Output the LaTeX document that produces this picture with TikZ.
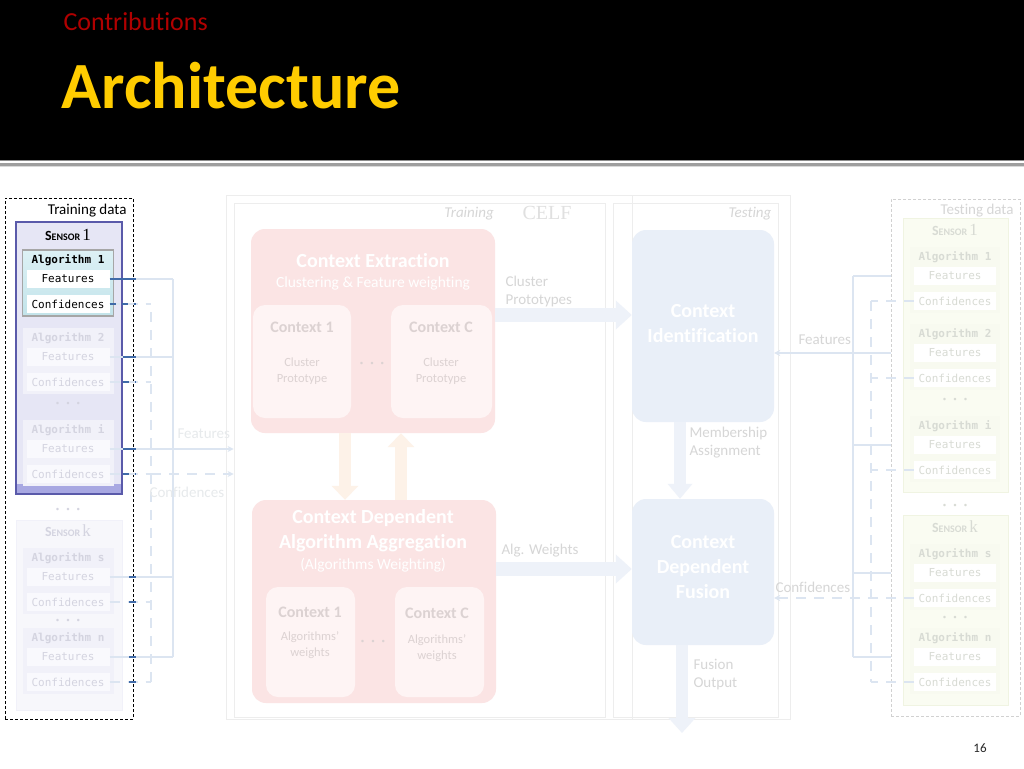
\documentclass[tikz,border=0pt]{standalone}
\usepackage{fontspec}
\setmainfont[Ligatures={TeX,NoCommon}]{Carlito}
\setmonofont{DejaVu Sans Mono}
\newfontfamily\serifnum{Liberation Serif}
\usetikzlibrary{arrows.meta}
\usetikzlibrary{positioning}

\definecolor{hdyellow}{HTML}{FFCC00}
\definecolor{hdred}{HTML}{B00000}
\definecolor{lavfill}{HTML}{E6E6F5}
\definecolor{lavline}{HTML}{5A5AAA}
\definecolor{lavband}{HTML}{A8A8E2}
\definecolor{algtop}{HTML}{DDF1F5}
\definecolor{algbot}{HTML}{C2E3EA}
\definecolor{wirehl}{HTML}{3F6AA8}
\definecolor{wirefd}{HTML}{DCE5F1}
\definecolor{pinkbg}{HTML}{FBE4E4}
\definecolor{pinkin}{HTML}{FEF4F4}
\definecolor{bluebg}{HTML}{E9EFF8}
\definecolor{arrowbl}{HTML}{EEF2F9}
\definecolor{arrowor}{HTML}{FDF2E8}
\definecolor{framecl}{HTML}{EDEDED}
\definecolor{fadetxt}{HTML}{D6D6D6}
\definecolor{ctxgray}{HTML}{DCD2D2}
\definecolor{lavfade}{HTML}{F1F1F9}
\definecolor{lavtxt}{HTML}{D4D4E0}
\definecolor{grnfade}{HTML}{FAFCF2}
\definecolor{grnline}{HTML}{F0F4E2}
\definecolor{grntxt}{HTML}{D8DBD4}

\newcommand\sensorname[1]{{\bfseries{\fontsize{14}{14}\selectfont S}{\fontsize{10}{12}\selectfont ENSOR}}~{\serifnum\fontsize{17}{17}\selectfont #1}}
\newcommand\dotrowtext{\textbullet\hspace{7pt}\textbullet\hspace{7pt}\textbullet}
\newcommand\algblock[5]{%
  \node[#5 blk] (#1) at (#2,#3+23) {};
  \node[#5 title] (#1t) at (#2,#3) {Algorithm #4};
  \node[#5 field] (#1f) at (#2,#3+19) {Features};
  \node[#5 field] (#1c) at (#2,#3+44) {Confidences};
}

\tikzset{
  celfframe/.style={draw=framecl, line width=0.8pt, inner sep=0pt},
  datafr/.style={draw=black, dash pattern=on 3pt off 2pt, line width=0.8pt, inner sep=0pt},
  framelbl/.style={text=fadetxt, font=\itshape\fontsize{15}{17}\selectfont},
  sensorhl/.style={draw=lavline, line width=1.2pt, fill=lavfill, inner sep=0pt,
    path picture={\fill[lavband] ([yshift=10pt]path picture bounding box.south west) rectangle (path picture bounding box.south east);}},
  sensorfl/.style={draw=lavfade, line width=1pt, fill=lavfade!60, inner sep=0pt},
  sensorfr/.style={draw=grnline, line width=1pt, fill=grnfade, inner sep=0pt},
  hl blk/.style={draw=black!35, line width=1.6pt, top color=algtop, bottom color=algbot, minimum width=91, minimum height=66, inner sep=0pt},
  hl title/.style={font=\ttfamily\bfseries\fontsize{11}{12}\selectfont},
  hl field/.style={fill=white, minimum width=83, minimum height=18, inner sep=0pt, font=\ttfamily\fontsize{11}{12}\selectfont},
  fl blk/.style={fill=lavfade, minimum width=91, minimum height=66, inner sep=0pt},
  fl title/.style={text=lavtxt, font=\ttfamily\bfseries\fontsize{11}{12}\selectfont},
  fl field/.style={fill=white!60!lavfade, text=lavtxt, minimum width=83, minimum height=18, inner sep=0pt, font=\ttfamily\fontsize{11}{12}\selectfont},
  fr blk/.style={fill=grnline!50!white, minimum width=90, minimum height=66, inner sep=0pt},
  fr title/.style={text=grntxt, font=\ttfamily\bfseries\fontsize{11}{12}\selectfont},
  fr field/.style={fill=white, text=grntxt, minimum width=82, minimum height=18, inner sep=0pt, font=\ttfamily\fontsize{11}{12}\selectfont},
  dotrow/.style={font=\fontsize{7}{7}\selectfont},
}
\tikzset{
  bigbox/.style={rounded corners=14pt, inner sep=0pt},
  pinkbox/.style={bigbox, fill=pinkbg},
  bluebox/.style={bigbox, fill=bluebg},
  ctxbox/.style={rounded corners=12pt, fill=pinkin, inner sep=0pt},
  boxtitle/.style={text=white, align=center, font=\bfseries\fontsize{20}{25}\selectfont},
  boxsub/.style={text=white, font=\fontsize{15.5}{17}\selectfont},
  ctxtitle/.style={text=ctxgray, font=\bfseries\fontsize{16}{18}\selectfont},
  ctxtext/.style={text=ctxgray, align=center, font=\fontsize{12.5}{16}\selectfont},
  lbl/.style={anchor=west, align=left, text=fadetxt, font=\fontsize{15}{18}\selectfont},
  barrow/.style={draw=arrowbl, line width=14pt, -{Triangle[length=16pt,width=28pt]}},
  oarrow/.style={draw=arrowor, line width=12pt, -{Triangle[length=14pt,width=26pt]}},
  fdwire/.style={draw=wirefd, line width=2pt},
  fddash/.style={draw=wirefd, line width=2pt, dash pattern=on 10pt off 8pt},
  hlwire/.style={draw=wirehl, line width=2.5pt},
  hldash/.style={draw=wirehl, line width=2pt, dash pattern=on 6pt off 6pt},
  tip/.style={-{Stealth[length=6pt,width=6pt]}},
}

\begin{document}
\begin{tikzpicture}[x=1pt, y=-1pt]
  \useasboundingbox (0,0) rectangle (1024,768);
  \fill[white] (0,0) rectangle (1024,768);

  % slide header
  \fill[black] (0,0) rectangle (1024,160);
  \fill[black!45] (0,160) rectangle (1024,161);
  \fill[black!38] (0,163) rectangle (1024,165.5);
  \fill[black!15] (0,165.5) rectangle (1024,167);
  \node[anchor=base west, text=hdred, font=\fontsize{26}{26}\selectfont] (part) at (60,31) {Contributions};
  \node[anchor=base west, text=hdyellow, font=\bfseries\fontsize{66}{66}\selectfont] (title) at (58,108) {Architecture};
  \node[text=black!85, font=\fontsize{13}{13}\selectfont] (page) at (980,748) {16};

  % frames
  \node[datafr, minimum width=128, minimum height=521] (trd) at (69,458.5) {};
  \node[anchor=east, font=\fontsize{15}{17}\selectfont] (trdl) at (130,211) {Training data};
  \node[datafr, draw=black!18, minimum width=129, minimum height=517] (tsd) at (955.5,457.5) {};
  \node[anchor=east, text=fadetxt, font=\fontsize{15}{17}\selectfont] (tsdl) at (1017,211) {Testing data};
  \node[celfframe, minimum width=564, minimum height=524] (celf) at (508,457) {};
  \node[celfframe, minimum width=371, minimum height=514] (trn) at (419.5,460) {};
  \node[celfframe, minimum width=165, minimum height=514] (tst) at (695.5,460) {};
  \draw[draw=framecl, line width=0.8pt] (632,195) -- (632,719);
  \node[text=black!12, font=\serifnum\fontsize{20}{20}\selectfont] (celfl) at (547,213) {CELF};
  \node[framelbl] (trnl) at (469,214) {Training};
  \node[framelbl] (tstl) at (750,214) {Testing};

  % training data sensors
  \node[sensorhl, minimum width=106, minimum height=272] (s1) at (69,358) {};
  \node (s1t) at (68,235) {\sensorname{1}};
  \algblock{a1}{68}{260}{1}{hl}
  \algblock{a2}{68}{338}{2}{fl}
  \node[dotrow, text=lavtxt] (s1d) at (68,404) {\dotrowtext};
  \algblock{ai}{68}{430}{i}{fl}
  \node[dotrow, text=lavtxt] (sd) at (68,510) {\dotrowtext};
  \node[sensorfl, minimum width=106, minimum height=190] (sk) at (69,615) {};
  \node[text=lavtxt] (skt) at (68,531) {\sensorname{k}};
  \algblock{as}{68}{558}{s}{fl}
  \node[dotrow, text=lavtxt] (skd) at (68,621) {\dotrowtext};
  \algblock{an}{68}{638}{n}{fl}

  % testing data sensors
  \node[sensorfr, minimum width=105, minimum height=274] (r1) at (955.5,355) {};
  \node[text=grntxt] (r1t) at (955,230) {\sensorname{1}};
  \algblock{b1}{955}{257}{1}{fr}
  \algblock{b2}{955}{334}{2}{fr}
  \node[dotrow, text=grntxt] (r1d) at (955,400) {\dotrowtext};
  \algblock{bi}{955}{426}{i}{fr}
  \node[dotrow, text=grntxt] (rd) at (955,506) {\dotrowtext};
  \node[sensorfr, minimum width=105, minimum height=190] (rk) at (955.5,610) {};
  \node[text=grntxt] (rkt) at (955,527) {\sensorname{k}};
  \algblock{bs}{955}{554}{s}{fr}
  \node[dotrow, text=grntxt] (rkd) at (955,618) {\dotrowtext};
  \algblock{bn}{955}{638}{n}{fr}

  % context extraction
  \node[pinkbox, minimum width=244, minimum height=204] (ce) at (373,331) {};
  \node[boxtitle] (cet) at (373,261) {Context Extraction};
  \node[boxsub] (ces) at (373,283) {Clustering \& Feature weighting};
  \node[ctxbox, minimum width=98, minimum height=113] (ce1) at (302,361.5) {};
  \node[ctxbox, minimum width=101, minimum height=113] (cec) at (441.5,361.5) {};
  \node[ctxtitle] (ce1t) at (302,327) {Context 1};
  \node[ctxtext] (ce1x) at (302,371) {Cluster\\Prototype};
  \node[ctxtitle] (cect) at (441,327) {Context C};
  \node[ctxtext] (cecx) at (441,371) {Cluster\\Prototype};
  \node[dotrow, text=ctxgray] (ced) at (372,364) {\dotrowtext};

  % algorithm aggregation
  \node[pinkbox, minimum width=244, minimum height=203] (ca) at (374,601.5) {};
  \node[boxtitle] (cat) at (373,530.5) {Context Dependent\\Algorithm Aggregation};
  \node[boxsub] (cas) at (373,565) {(Algorithms Weighting)};
  \node[ctxbox, minimum width=89, minimum height=110] (ca1) at (310.5,642) {};
  \node[ctxbox, minimum width=89, minimum height=110] (cac) at (439.5,642) {};
  \node[ctxtitle] (ca1t) at (310,612) {Context 1};
  \node[ctxtext] (ca1x) at (310,645) {Algorithms'\\weights};
  \node[ctxtitle] (cact) at (437,613) {Context C};
  \node[ctxtext] (cacx) at (437,648) {Algorithms'\\weights};
  \node[dotrow, text=ctxgray] (cad) at (373,642) {\dotrowtext};

  % testing blocks
  \node[bluebox, minimum width=142, minimum height=192] (ci) at (703,326) {};
  \node[boxtitle] (cit) at (703,323.5) {Context\\Identification};
  \node[bluebox, minimum width=142, minimum height=146] (cdf) at (703,572) {};
  \node[boxtitle] (cdft) at (703,567.5) {Context\\Dependent\\Fusion};
  \coordinate (fout) at (682,733);

  % block arrows
  \draw[barrow] ([yshift=16pt]ce.east) -- ([yshift=11pt]ci.west);
  \draw[barrow] ([yshift=32.5pt]ca.east) -- ([yshift=3pt]cdf.west);
  \draw[oarrow] ([xshift=-28pt]ce.south) -- ([xshift=-28pt]ce.south |- ca.north);
  \draw[oarrow] ([xshift=27pt]ca.north) -- ([xshift=27pt]ca.north |- ce.south);
  \draw[barrow, line width=12pt, -{Triangle[length=15pt,width=24pt]}] ([xshift=-23pt]ci.south) -- ([xshift=-23pt]ci.south |- cdf.north);
  \draw[barrow, line width=12pt, -{Triangle[length=15pt,width=26pt]}] ([xshift=-21pt]cdf.south) -- (fout);
  \node[lbl] (cpl) at (502,291) {Cluster\\Prototypes};
  \node[lbl] (awl) at (498,551) {Alg. Weights};
  \node[lbl] (mal) at (686,443) {Membership\\Assignment};
  \node[lbl] (fol) at (690,675) {Fusion\\Output};

  % training data wiring
  \coordinate (lbus) at (173,0);
  \coordinate (ldbus) at (151,0);
  \coordinate (ledge) at (136,0);
  \coordinate (lmark) at (129,0);
  \draw[fdwire] (a1f.east) -- (a1f -| lbus);
  \draw[fdwire] (a2f.east) -- (a2f -| lbus);
  \draw[fdwire] (aif.east) -- (aif -| lbus);
  \draw[fdwire] (asf.east) -- (asf -| lbus);
  \draw[fdwire] (anf.east) -- (anf -| lbus);
  \draw[fdwire] (a1f -| lbus) -- (anf -| lbus);
  \draw[fdwire, tip] (aif -| lbus) -- (trn.west |- aif);
  \draw[fddash] (a1c.east) -- (a1c -| ldbus);
  \draw[fddash] (a2c.east) -- (a2c -| ldbus);
  \draw[fddash] (aic.east) -- (aic -| ldbus);
  \draw[fddash] (asc.east) -- (asc -| ldbus);
  \draw[fddash] (anc.east) -- (anc -| ldbus);
  \draw[fddash] ([yshift=-8pt]a1c -| ldbus) -- (anc -| ldbus);
  \draw[fddash, tip] (aic -| ldbus) -- (trn.west |- aic);
  \draw[hlwire] (a1f.east) -- (a1f -| ledge);
  \draw[hlwire] (s1.east |- a2f) -- (a2f -| ledge);
  \draw[hlwire] (s1.east |- aif) -- (aif -| ledge);
  \draw[hlwire] (asf -| lmark) -- (asf -| ledge);
  \draw[hlwire] (anf -| lmark) -- (anf -| ledge);
  \draw[hldash] (a1c.east) -- (a1c -| ledge);
  \draw[hldash] (s1.east |- a2c) -- (a2c -| ledge);
  \draw[hldash] (s1.east |- aic) -- (aic -| ledge);
  \draw[hlwire, line width=2pt] (asc -| lmark) -- (asc -| ledge);
  \draw[hlwire, line width=2pt] (anc -| lmark) -- (anc -| ledge);
  \node[lbl, text=wirefd!80!black!30] (lfl) at (174,434) {Features};
  \node[lbl, text=wirefd!80!black!30] (lcl) at (146,492) {Confidences};

  % testing data wiring
  \coordinate (rbus) at (853,0);
  \coordinate (rdbus) at (871,0);
  \draw[fdwire] (tsd.west |- b1f) -- (b1f -| rbus);
  \draw[fdwire] (tsd.west |- b2f) -- (b2f -| rbus);
  \draw[fdwire] (tsd.west |- bif) -- (bif -| rbus);
  \draw[fdwire] (tsd.west |- bsf) -- (bsf -| rbus);
  \draw[fdwire] (tsd.west |- bnf) -- (bnf -| rbus);
  \draw[fdwire] (b1f -| rbus) -- (bnf -| rbus);
  \draw[fdwire, tip] (b2f -| rbus) -- (ci.east |- b2f);
  \draw[fddash] (b1c.west) -- (b1c -| rdbus);
  \draw[fddash] (b2c.west) -- (b2c -| rdbus);
  \draw[fddash] (bic.west) -- (bic -| rdbus);
  \draw[fddash] (bnc.west) -- (bnc -| rdbus);
  \draw[fddash] (b1c -| rdbus) -- (bnc -| rdbus);
  \draw[fddash, tip] (bsc.west) -- (cdf.east |- bsc);
  \node[lbl] (rfl) at (795,340) {Features};
  \node[lbl] (rcl) at (772,587) {Confidences};
\end{tikzpicture}
\end{document}
